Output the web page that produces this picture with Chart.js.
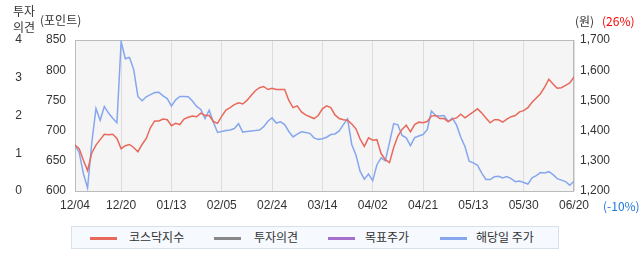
<!DOCTYPE html>
<html><head><meta charset="utf-8">
<script src="https://cdn.jsdelivr.net/npm/chart.js@4"></script>
<style>
html,body{margin:0;padding:0;background:#fff;}
#wrap{position:relative;width:642px;height:268px;overflow:hidden;font-family:"Noto Sans CJK KR","Liberation Sans",sans-serif;color:#333;}
canvas{position:absolute;left:0;top:0;}
.t{position:absolute;font-size:12px;line-height:14px;white-space:nowrap;}
#legend{position:absolute;left:71px;top:226px;width:486px;height:21px;background:#F6F9FD;border:1px solid #D6E1EC;}
.ll{position:absolute;height:3px;width:27px;top:10px;}
.lt{position:absolute;top:3px;font-size:12px;line-height:14px;color:#333;}
</style></head>
<body>
<div id="wrap">
<canvas id="c" width="642" height="268"></canvas>
<div class="t" style="left:13px;top:4px;">투자</div>
<div class="t" style="left:13px;top:20px;">의견</div>
<div class="t" style="left:40px;top:13px;">(포인트)</div>
<div class="t" style="left:575px;top:14px;">(원)</div>
<div class="t" style="left:602px;top:14px;color:#FF0000;">(26%)</div>
<div class="t" style="left:603px;top:199px;color:#1E78E0;">(-10%)</div>
<div id="legend">
  <div class="ll" style="left:18px;background:#E8695B;"></div><div class="lt" style="left:57px;">코스닥지수</div>
  <div class="ll" style="left:142px;background:#888888;"></div><div class="lt" style="left:182px;">투자의견</div>
  <div class="ll" style="left:256px;background:#A56FCC;"></div><div class="lt" style="left:293px;">목표주가</div>
  <div class="ll" style="left:368px;background:#86A7EE;"></div><div class="lt" style="left:404px;">해당일 주가</div>
</div>
</div>
<script>
const tickLabels = ['12/04','12/20','01/13','02/05','02/24','03/14','04/02','04/21','05/13','05/30','06/20'];
const tickIndex = [0,11,23,35,47,59,71,83,95,107,119];
const kosdaq = [
676,670,651,634,663,676,685,694,693,694,
687,670,675,677,672,665,677,687,705,716,
716,719,718,708,712,710,719,722,724,723,
729,725,725,715,712,724,734,738,743,746,
744,750,758,766,771,773,768,770,768,768,
768,750,738,741,731,726,723,720,725,
736,741,738,726,720,718,717,711,703,686,
674,688,684,685,662,652,647,672,691,702,
709,698,710,714,713,715,724,725,720,720,
715,719,721,727,721,726,731,736,729,721,
713,718,718,714,719,723,725,731,733,738,
747,754,761,772,785,777,770,771,775,779,789];
const price = [
1353,1327,1258,1210,1359,1473,1434,1480,1458,1441,
1426,1695,1638,1642,1602,1513,1499,1512,1519,1526,
1527,1515,1506,1481,1502,1513,1513,1512,1498,1480,
1470,1440,1468,1428,1394,1397,1400,1402,1407,1423,
1395,1397,1399,1400,1402,1413,1431,1442,1425,1429,
1420,1397,1379,1388,1396,1394,1391,1376,1371,
1373,1378,1387,1389,1399,1420,1439,1354,1319,1265,
1239,1256,1234,1287,1310,1300,1360,1423,1419,1384,
1376,1350,1377,1382,1387,1403,1465,1450,1448,1450,
1430,1441,1418,1378,1347,1299,1293,1285,1259,1238,
1238,1247,1249,1243,1248,1241,1231,1233,1228,1223,
1244,1251,1261,1260,1264,1254,1241,1236,1231,1219,1232];

const tickFont = {family:'"Liberation Sans", Arial, sans-serif', size:12};
const bg = {
  id:'bg',
  beforeDraw(chart){
    const a = chart.chartArea, c = chart.ctx;
    c.save(); c.fillStyle = '#F5F5F5';
    c.fillRect(a.left, a.top, a.right - a.left, a.bottom - a.top);
    c.restore();
  },
  beforeDatasetsDraw(chart){
    const a = chart.chartArea, c = chart.ctx;
    c.save(); c.strokeStyle = '#BBBBBB'; c.lineWidth = 1;
    c.strokeRect(Math.round(a.left)+0.5, Math.round(a.top)+0.5, Math.round(a.right - a.left)-1, Math.round(a.bottom - a.top));
    c.restore();
  }
};

new Chart(document.getElementById('c'), {
  type:'line',
  data:{datasets:[
    {label:'코스닥지수', data:kosdaq.map((v,i)=>({x:i,y:v})), yAxisID:'yK', borderColor:'#E8695B', borderWidth:1.5, pointRadius:0, tension:0},
    {label:'해당일 주가', data:price.map((v,i)=>({x:i,y:v})), yAxisID:'yP', borderColor:'#86A7EE', borderWidth:1.5, pointRadius:0, tension:0}
  ]},
  options:{
    responsive:false, animation:false,
    layout:{padding:{top:40,left:0,right:0,bottom:0}},
    plugins:{legend:{display:false}, tooltip:{enabled:false}},
    scales:{
      x:{type:'linear', min:0, max:119,
        afterBuildTicks:s=>{s.ticks = tickIndex.map(v=>({value:v}));},
        afterFit:s=>{s.height = 77;},
        ticks:{autoSkip:false, maxRotation:0, minRotation:0, padding:7, color:'#333', font:tickFont,
          callback:v=>tickLabels[tickIndex.indexOf(v)]},
        grid:{color:'#DCDCDC', drawTicks:false}, border:{display:false}},
      yO:{position:'left', weight:1, min:0, max:4,
        ticks:{stepSize:1, padding:18, color:'#333', font:tickFont},
        grid:{display:false, drawTicks:false}, border:{display:false},
        afterFit:s=>{s.width = 40;}},
      yK:{position:'left', weight:0, min:600, max:850,
        ticks:{stepSize:50, padding:9, color:'#333', font:tickFont},
        grid:{display:false, drawTicks:false}, border:{display:false},
        afterFit:s=>{s.width = 35;}},
      yP:{position:'right', min:1200, max:1700,
        ticks:{stepSize:100, padding:6, color:'#333', font:tickFont,
          callback:v=>v.toLocaleString('en-US')},
        grid:{display:false, drawTicks:false}, border:{display:false},
        afterFit:s=>{s.width = 68;}}
    }
  },
  plugins:[bg]
});
</script>
</body></html>
